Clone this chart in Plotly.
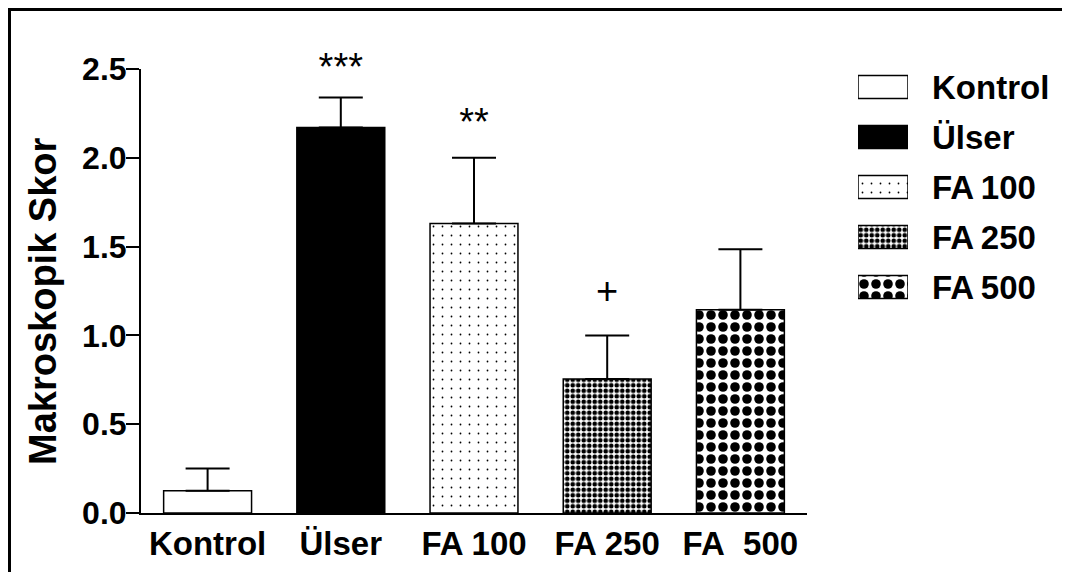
import plotly.graph_objects as go

categories = ["Kontrol", "Ülser", "FA 100", "FA 250", "FA 500"]
tick_labels = ["Kontrol", "Ülser", "FA 100", "FA 250", "FA\u00a0 500"]
legend_names = ["Kontrol", "Ülser", "FA\u2009100", "FA\u2009250", "FA\u2009500"]
means = [0.125, 2.17, 1.63, 0.755, 1.145]
sem = [0.125, 0.17, 0.37, 0.245, 0.34]
sig_labels = ["***", "**", "+"]
sig_x = [1, 2, 3]
sig_y = [2.49, 2.18, 1.23]
legend_len = [1, 1, 1, 1, 1]

fills = [
    dict(color="white", pattern=None),
    dict(color="black", pattern=None),
    dict(color="white", pattern=dict(shape=".", size=9, solidity=0.03, fgcolor="black",
                                     bgcolor="white", fgopacity=1)),
    dict(color="white", pattern=dict(shape=".", size=5.5, solidity=0.55, fgcolor="black",
                                     bgcolor="white", fgopacity=1)),
    dict(color="white", pattern=dict(shape=".", size=12, solidity=0.5, fgcolor="black",
                                     bgcolor="white", fgopacity=1)),
]

FONT = "Liberation Sans, Arial, sans-serif"
fig = go.Figure()

for i, c in enumerate(categories):
    mk = dict(color=fills[i]["color"], line=dict(color="black", width=1.5))
    if fills[i]["pattern"]:
        mk["pattern"] = fills[i]["pattern"]
    fig.add_trace(go.Bar(
        x=[i], y=[means[i]], width=0.66, marker=mk, showlegend=False,
        error_y=dict(type="data", array=[sem[i]], symmetric=False, arrayminus=[0],
                     color="black", thickness=2, width=22),
        xaxis="x", yaxis="y",
    ))
    # legend swatch drawn as a small horizontal bar on secondary axes
    fig.add_trace(go.Bar(
        y=[legend_names[i]], x=[legend_len[i]], orientation="h", width=0.46,
        marker=mk, showlegend=False, xaxis="x2", yaxis="y2",
    ))

# page offset of the plot div (body margin) is 8px
OFF = 8
W, H = 1054, 564
L, R, T, B = 133, 2, 32, 59
pw, ph = W - L - R, H - T - B
px = lambda p: (p - OFF - L) / pw
py = lambda p: (H - B - (p - OFF)) / ph

YMAX = 2.5
ytop = py(69)

# significance marks on a second y axis with the same scale but a taller domain
fig.add_trace(go.Scatter(
    x=sig_x, y=sig_y, mode="text", text=sig_labels, textposition="middle center",
    textfont=dict(family=FONT, size=38, color="black"), cliponaxis=False,
    showlegend=False, hoverinfo="skip", xaxis="x", yaxis="y3",
))

fig.update_layout(
    width=W, height=H,
    margin=dict(l=L, r=R, t=T, b=B),
    paper_bgcolor="white", plot_bgcolor="rgba(0,0,0,0)",
    font=dict(family=FONT, color="black"),
    xaxis=dict(domain=[0, px(807)], range=[-0.5, 4.5], tickvals=list(range(5)), ticktext=tick_labels,
               showline=True, linecolor="black", linewidth=2, ticks="", showgrid=False, zeroline=False,
               tickfont=dict(family=FONT, size=33, color="black", weight="bold"), fixedrange=True,
               automargin=False),
    yaxis=dict(domain=[0, ytop], range=[0, YMAX], tickvals=[0, 0.5, 1.0, 1.5, 2.0, 2.5],
               ticktext=["0.0", "0.5", "1.0", "1.5", "2.0", "2.5"],
               showline=True, linecolor="black", linewidth=2, ticks="outside", ticklen=13, tickwidth=2,
               tickcolor="black", showgrid=False, zeroline=False, automargin=False,
               ticklabelstandoff=-7,
               tickfont=dict(family=FONT, size=32, color="black", weight="bold")),
    yaxis3=dict(domain=[0, 1], range=[0, YMAX / ytop], anchor="x",
                visible=False, fixedrange=True),
    xaxis2=dict(domain=[px(858), px(908)], range=[0, 1], visible=False, anchor="y2", fixedrange=True),
    yaxis2=dict(domain=[py(312), py(62)], anchor="x2", autorange="reversed", side="right",
                showline=False, ticks="", showgrid=False, zeroline=False, ticklabelstandoff=23,
                tickfont=dict(family=FONT, size=33, color="black", weight="bold"), fixedrange=True,
                automargin=False),
)

fig.add_annotation(text="Makroskopik Skor", textangle=-90, showarrow=False,
                   xref="paper", yref="paper", x=px(43), y=py(301), xanchor="center", yanchor="middle",
                   font=dict(family=FONT, size=38, color="black", weight="bold"))

# partial outer frame (left and top edges)
fig.add_shape(type="line", xref="paper", yref="paper", x0=px(9.5), x1=px(9.5), y0=py(9.5), y1=py(600),
              line=dict(color="black", width=3))
fig.add_shape(type="line", xref="paper", yref="paper", x0=px(8), x1=px(1070), y0=py(9.5), y1=py(9.5),
              line=dict(color="black", width=3))

fig.write_html("out.html")
